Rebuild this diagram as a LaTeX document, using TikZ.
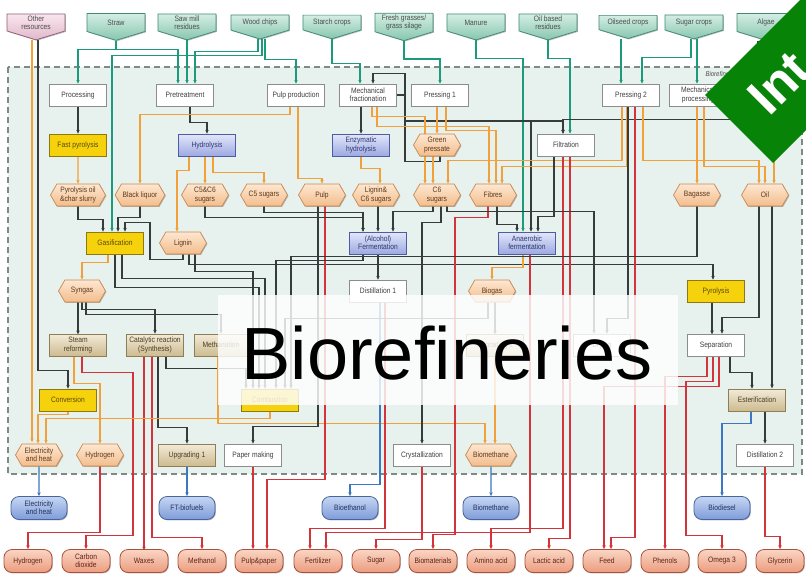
\documentclass[tikz,border=0pt]{standalone}
\usepackage{fontspec}
\setmainfont{Liberation Sans}
\newfontfamily\boxfont{Liberation Sans}[FakeStretch=0.86]
\usetikzlibrary{positioning,arrows.meta,shapes.symbols,shadows,backgrounds}
\definecolor{regfill}{HTML}{E7F2EF}
\definecolor{regline}{HTML}{7D8A88}
\definecolor{tealln}{HTML}{1B9A7C}
\definecolor{intop}{HTML}{D4EEE5}
\definecolor{inbot}{HTML}{86C6AE}
\definecolor{inbd}{HTML}{3F8A74}
\definecolor{pinktop}{HTML}{F9E6EE}
\definecolor{pinkbot}{HTML}{E2B8CA}
\definecolor{pinkbd}{HTML}{8E5E78}
\definecolor{darkln}{HTML}{363B3B}
\definecolor{orangeln}{HTML}{F2A03A}
\definecolor{redln}{HTML}{D3343C}
\definecolor{blueln}{HTML}{3A78C4}
\definecolor{yelfill}{HTML}{F6D20C}
\definecolor{yelbd}{HTML}{8C7A10}
\definecolor{yeltx}{HTML}{5A4A08}
\definecolor{bluetop}{HTML}{E3E7FA}
\definecolor{bluebot}{HTML}{9DA9E1}
\definecolor{bluebd}{HTML}{4E5CA6}
\definecolor{bluetx}{HTML}{2E3870}
\definecolor{tantop}{HTML}{F3EBD8}
\definecolor{tanbot}{HTML}{CDBB90}
\definecolor{tanbd}{HTML}{8D7D58}
\definecolor{tantx}{HTML}{4A3E25}
\definecolor{hextop}{HTML}{FDE7D1}
\definecolor{hexbot}{HTML}{F3BD8C}
\definecolor{hexbd}{HTML}{C98850}
\definecolor{hextx}{HTML}{5C3A1C}
\definecolor{prbtop}{HTML}{C6D6F3}
\definecolor{prbbot}{HTML}{7E9CD8}
\definecolor{prbbd}{HTML}{47649F}
\definecolor{prbtx}{HTML}{22325E}
\definecolor{prrtop}{HTML}{FAD5C4}
\definecolor{prrbot}{HTML}{EC9C7E}
\definecolor{prrbd}{HTML}{A9513C}
\definecolor{prrtx}{HTML}{5E2418}
\definecolor{ribbon}{HTML}{078307}
\begin{document}
\begin{tikzpicture}[x=1pt, y=-1pt,
    font=\boxfont\fontsize{7.8}{8.2}\selectfont,
    sh/.style      ={drop shadow={shadow xshift=0.9pt, shadow yshift=-0.9pt, fill=black!55, opacity=0.5}},
    inp/.style     ={shape=signal, signal to=south, signal pointer angle=146, minimum width=58, minimum height=21, inner sep=1.5pt, align=center, text=black!70, draw=inbd, line width=0.7, top color=intop, bottom color=inbot, sh},
    inpk/.style    ={inp, draw=pinkbd, top color=pinktop, bottom color=pinkbot},
    wbox/.style    ={rectangle, draw=black!45, line width=0.7, fill=white, minimum width=57, minimum height=22, inner sep=1.5pt, align=center, text=black!75, sh},
    ybox/.style    ={wbox, draw=yelbd, fill=yelfill, text=yeltx},
    bluebox/.style ={wbox, draw=bluebd, top color=bluetop, bottom color=bluebot, text=bluetx},
    tbox/.style    ={wbox, draw=tanbd, top color=tantop, bottom color=tanbot, text=tantx},
    hexn/.style    ={shape=signal, signal to=east and west, signal pointer angle=120, minimum width=47, minimum height=22, inner sep=1.2pt, align=center, draw=hexbd, line width=0.7, top color=hextop, bottom color=hexbot, text=hextx, sh},
    prodb/.style   ={rectangle, rounded corners=8pt, minimum width=56, minimum height=23, inner sep=1.5pt, align=center, draw=prbbd, line width=0.8, top color=prbtop, bottom color=prbbot, text=prbtx, sh},
    prodr/.style   ={prodb, minimum width=48, draw=prrbd, top color=prrtop, bottom color=prrbot, text=prrtx},
    flow/.style    ={line width=1.1pt, -{Stealth[length=3.8pt, width=3.4pt]}},
    flowt/.style   ={flow, draw=tealln},
    flowd/.style   ={flow, draw=darkln},
    flowo/.style   ={flow, draw=orangeln},
    flowr/.style   ={flow, draw=redln},
    flowb/.style   ={flow, draw=blueln},
  ]
  \useasboundingbox (0,0) rectangle (806,576);
  \clip (0,0) rectangle (806,576);
  \node[inpk] (othr)    at (36,22.5)  {Other\\resources};
  \node[inp]  (straw)   at (116,22.5) {Straw};
  \node[inp]  (saw)     at (187,22.5) {Saw mill\\residues};
  \node[inp]  (wood)    at (260,22.5) {Wood chips};
  \node[inp]  (starch)  at (332,22.5) {Starch crops};
  \node[inp]  (grass)   at (404,22.5) {Fresh grasses/\\grass silage};
  \node[inp]  (manure)  at (476,22.5) {Manure};
  \node[inp]  (oilres)  at (548,22.5) {Oil based\\residues};
  \node[inp]  (oilseed) at (628,22.5) {Oilseed crops};
  \node[inp]  (sugarc)  at (694,22.5) {Sugar crops};
  \node[inp]  (algae)   at (766,22.5) {Algae};
  \node[font=\boxfont\itshape\fontsize{7}{7}\selectfont, text=black!70, anchor=west] (brlabel) at (702,75) {Biorefinery};
  \node[wbox] (proc)   at (78,95)  {Processing};
  \node[wbox] (pretr)  at (185,95) {Pretreatment};
  \node[wbox] (pulpp)  at (296,95) {Pulp production};
  \node[wbox] (mfrac)  at (368,95) {Mechanical\\fractionation};
  \node[wbox] (press1) at (440,95) {Pressing 1};
  \node[wbox] (press2) at (631,95) {Pressing 2};
  \node[wbox] (mproc)  at (698,95) {Mechanical\\processing};
  \node[ybox]    (fpyr)   at (78,145)  {Fast pyrolysis};
  \node[bluebox] (hydro)  at (207,145) {Hydrolysis};
  \node[bluebox] (enz)    at (361,145) {Enzymatic\\hydrolysis};
  \node[hexn]    (gpress) at (437,145) {Green\\pressate};
  \node[wbox]    (filt)   at (566,145) {Filtration};
  \node[hexn, minimum width=55] (pyoil) at (78,195) {Pyrolysis oil\\\&char slurry};
  \node[hexn] (bliq)    at (140,195) {Black liquor};
  \node[hexn] (csix5)   at (205,195) {C5\&C6\\sugars};
  \node[hexn] (cfive)   at (264,195) {C5 sugars};
  \node[hexn] (pulp)    at (322,195) {Pulp};
  \node[hexn] (lignsix) at (376,195) {Lignin\&\\C6 sugars};
  \node[hexn] (csix)    at (437,195) {C6\\sugars};
  \node[hexn] (fibre)   at (493,195) {Fibres};
  \node[hexn] (bagas)   at (697,195) {Bagasse};
  \node[hexn] (oil)     at (765,195) {Oil};
  \node[ybox]    (gasif)  at (115,243) {Gasification};
  \node[hexn]    (lignin) at (183,243) {Lignin};
  \node[bluebox] (ferm)   at (378,243) {(Alcohol)\\Fermentation};
  \node[bluebox] (anaer)  at (527,243) {Anaerobic\\fermentation};
  \node[hexn] (syngas) at (82,291)  {Syngas};
  \node[wbox] (dist1)  at (378,291) {Distillation 1};
  \node[hexn] (biogas) at (492,291) {Biogas};
  \node[ybox] (pyro)   at (716,291) {Pyrolysis};
  \node[tbox] (steam)  at (78,345)  {Steam\\reforming};
  \node[tbox] (cat)    at (155,345) {Catalytic reaction\\(Synthesis)};
  \node[tbox, minimum width=54] (methn) at (221,345) {Methanation};
  \node[tbox] (upg2)   at (495,345) {Upgrading 2};
  \node[wbox] (dry)    at (602,345) {Drying};
  \node[wbox] (sep)    at (716,345) {Separation};
  \node[ybox] (conv)   at (68,400)  {Conversion};
  \node[ybox] (comb)   at (270,400) {Combustion};
  \node[tbox] (ester)  at (757,400) {Esterification};
  \node[hexn] (elec)   at (39,455)  {Electricity\\and heat};
  \node[hexn] (hyd)    at (100,455) {Hydrogen};
  \node[tbox] (upg1)   at (187,455) {Upgrading 1};
  \node[wbox] (paper)  at (253,455) {Paper making};
  \node[wbox] (cryst)  at (422,455) {Crystallization};
  \node[hexn] (bmeth)  at (491,455) {Biomethane};
  \node[wbox] (dist2)  at (765,455) {Distillation 2};
  \node[prodb] (pelec)    at (39,508)  {Electricity\\and heat};
  \node[prodb] (pft)      at (187,508) {FT-biofuels};
  \node[prodb] (pbeth)    at (350,508) {Bioethanol};
  \node[prodb] (pbmeth)   at (491,508) {Biomethane};
  \node[prodb] (pbdiesel) at (722,508) {Biodiesel};
  \node[prodr] (ph2)     at (28,561)  {Hydrogen};
  \node[prodr] (pco2)    at (86,561)  {Carbon\\dioxide};
  \node[prodr] (pwax)    at (144,561) {Waxes};
  \node[prodr] (pmeoh)   at (202,561) {Methanol};
  \node[prodr] (ppulp)   at (259,561) {Pulp\&paper};
  \node[prodr] (pfert)   at (318,561) {Fertilizer};
  \node[prodr] (psugar)  at (376,561) {Sugar};
  \node[prodr] (pbmat)   at (433,561) {Biomaterials};
  \node[prodr] (pamino)  at (491,561) {Amino acid};
  \node[prodr] (plactic) at (549,561) {Lactic acid};
  \node[prodr] (pfeed)   at (607,561) {Feed};
  \node[prodr] (pphen)   at (665,561) {Phenols};
  \node[prodr] (pomega)  at (722,561) {Omega 3};
  \node[prodr] (pglyc)   at (780,561) {Glycerin};
  \begin{scope}[on background layer]
  \fill[white] (0,0) rectangle (806,576);
  \draw[draw=regline, dash pattern=on 6pt off 4pt, line width=1.2pt, fill=regfill] (8,67) rectangle (802,474);
  \draw[flowt] (straw.south) -- ++(0,9) -| (proc.north);
  \draw[flowt] (straw.south) -- ++(0,9) -| ([xshift=-7]pretr.north);
  \draw[flowt] (saw.south) -- (saw.south |- pretr.north);
  \draw[flowt] ([xshift=-2]wood.south) -- ++(0,12) -| ([xshift=10]pretr.north);
  \draw[flowt] ([xshift=2]wood.south) -- ++(0,16) -| ([xshift=-3]gasif.north);
  \draw[flowt] ([xshift=5]wood.south) -- ++(0,20) -| (pulpp.north);
  \draw[flowt] (starch.south) -- ++(0,24) -| ([xshift=-8]mfrac.north);
  \draw[flowt] (grass.south) -- ++(0,18) -| (press1.north);
  \draw[flowt] (manure.south) -- ++(0,18) -| ([xshift=-4]anaer.north);
  \draw[flowt] (oilres.south) -- ++(0,18) -| ([xshift=4]filt.north);
  \draw[flowt] ([xshift=-7]oilseed.south) -- ([xshift=-10]press2.north);
  \draw[flowt] ([xshift=-3]sugarc.south) -- ++(0,18) -| ([xshift=11]press2.north);
  \draw[flowt] ([xshift=3]sugarc.south) -- ([xshift=-1]mproc.north);
  \draw[flowo] ([xshift=-4]othr.south) -- ++(0,402);
  \draw[flowd] ([xshift=2]othr.south) -- ++(0,330) -| (conv.north);
  \draw[flowd] (proc) -- (fpyr);
  \draw[flowd] ([xshift=5]pretr.south) -- ++(0,16) -| (hydro.north);
  \draw[flowd] (enz.north |- mfrac.south) -- (enz.north);
  \draw[flowd] (mfrac.east) -| ++(8.5,26) -| ([xshift=-3]filt.north);
  \draw[flowd] (mfrac.east) -| ++(8.5,26) -| ([xshift=4]anaer.north);
  \draw[flowd] ([xshift=-8]algae.south) -- ++(0,79) -| ([xshift=-3]filt.north);
  \draw[flowd] ([xshift=3]gpress.south) -- ++(0,5) -| ++(-35,-88) -| ([xshift=5]mfrac.north);
  \draw[flowo] (fpyr) -- (pyoil);
  \draw[flowd] (pyoil.south) -- ++(0,13) -| ([xshift=-12]gasif.north);
  \draw[flowd] (bliq.south) -- ++(0,11) -| ([xshift=3]gasif.north);
  \draw[flowd] (lignin.south) -- ++(0,5) -| ++(-33,-37) -| ([xshift=10]gasif.north);
  \draw[flowd] ([xshift=6]lignin.south) -- ++(0,10) -| ([xshift=-3]pyro.north);
  \draw[flowd] ([xshift=12]lignin.south) -- ++(0,17) -| ([xshift=-17]comb.north);
  \draw[flowo] ([xshift=-7]gasif.south) -- ++(0,8) -| (syngas.north);
  \draw[flowd] (gasif.south) -- ++(0,33) -| ([xshift=-11]comb.north);
  \draw[flowd] ([xshift=7]gasif.south) -- ++(0,24) -| ([xshift=-5]comb.north);
  \draw[flowd] ([xshift=-4]syngas.south) -- ++(0,32);
  \draw[flowd] (syngas.south) -- ++(0,7) -| (cat.north);
  \draw[flowd] ([xshift=4]syngas.south) -- ++(0,12) -| (methn.north);
  \draw[flowo] ([xshift=-4]steam.south) -- ++(0,27) -| (hyd.north);
  \draw[flowr] ([xshift=4]steam.south) -- ++(0,16) -| ++(51,163) -| (pco2.north);
  \draw[flowr] ([xshift=-11]cat.south) -- ++(0,194);
  \draw[flowr] ([xshift=-3]cat.south) -- ++(0,181) -| (pmeoh.north);
  \draw[flowd] ([xshift=3]cat.south) -- ++(0,71) -| (upg1.north);
  \draw[flowd] ([xshift=11]cat.south) -- ++(0,12) -| ([xshift=-24]comb.north);
  \draw[flowo] ([xshift=-3]methn.south) -- ++(0,67) -| ([xshift=-6]bmeth.north);
  \draw[flowo] (comb.south) -- ++(0,7) -| ([xshift=7]elec.north);
  \draw[flowo] (conv.south) -- ++(0,3) -| ([xshift=-1]elec.north);
  \draw[flowr] (hyd.south) -- ++(0,66) -| (ph2.north);
  \draw[flowb] (elec) -- (pelec);
  \draw[flowb] (upg1) -- (pft);
  \draw[flowb] (bmeth) -- (pbmeth);
  \draw[flowd] ([xshift=-4]pulp.south) -- ++(0,220) -| (paper.north);
  \draw[flowr] ([xshift=3]pulp.south) -- ++(0,273) -| ([xshift=8]ppulp.north);
  \draw[flowr] (paper.south) -- (paper.south |- ppulp.north);
  \draw[flowo] ([xshift=2]pulpp.south) -- ++(0,72) -| (pulp.north);
  \draw[flowo] ([xshift=-6]pulpp.south) -- ++(0,8) -| (bliq.north);
  \draw[flowo] (csix5.north |- hydro.south) -- (csix5.north);
  \draw[flowo] ([xshift=6]hydro.south) -- ++(0,16) -| (cfive.north);
  \draw[flowo] ([xshift=-18]hydro.south) -- ++(0,14) -| ([xshift=-6]lignin.north);
  \draw[flowo] (enz.south) -- ++(0,12) -| ([xshift=4]lignsix.north);
  \draw[flowo] ([xshift=4]mfrac.south) -- ++(0,10) -| ([xshift=-12]csix.north);
  \draw[flowo] ([xshift=9]mfrac.south) -- ++(0,20) -| ([xshift=-4]fibre.north);
  \draw[flowo] (gpress.north |- press1.south) -- (gpress.north);
  \draw[flowo] ([xshift=6]press1.south) -- ++(0,24) -| ([xshift=3]fibre.north);
  \draw[flowo] ([xshift=-4]gpress.south) -- ([xshift=-4]csix.north);
  \draw[flowo] ([xshift=-9]press2.south) -- ++(0,54) -| ([xshift=11]csix.north);
  \draw[flowo] ([xshift=-4]press2.south) -- ++(0,60) -| ([xshift=9]fibre.north);
  \draw[flowo] ([xshift=12]press2.south) -- ++(0,54) -| ([xshift=-6]oil.north);
  \draw[flowo] (bagas.north |- mproc.south) -- (bagas.north);
  \draw[flowo] ([xshift=6]mproc.south) -- ++(0,60) -| (oil.north);
  \draw[flowo] ([xshift=8]algae.south) -- ([xshift=9]oil.north);
  \draw[flowd] ([xshift=-3]press2.south) -- ++(0,212) -| ([xshift=5]dry.north);
  \draw[flowr] ([xshift=4]press2.south) -- ++(0,431) -| ([xshift=4]pfeed.north);
  \draw[flowr] ([xshift=-3]filt.south) -- ++(0,372) -| (pamino.north);
  \draw[flowr] ([xshift=4]filt.south) -- ++(0,382) -| (plactic.north);
  \draw[flowd] ([xshift=-12]filt.south) -- ++(0,60) -| ([xshift=11]anaer.north);
  \draw[flowo] ([xshift=-4]anaer.south) -- ++(0,13) -| (biogas.north);
  \draw[flowr] ([xshift=3]anaer.south) -- ++(0,278) -| ([xshift=8]pfert.north);
  \draw[flowd] ([xshift=4]fibre.south) -- ++(0,18) -| ([xshift=-10]anaer.north);
  \draw[flowr] ([xshift=-5]fibre.south) -- ++(0,11) -| ++(-33,317) -| (pbmat.north);
  \draw[flowd] ([xshift=-4]csix.south) -- ++(0,5) -| ([xshift=15]ferm.north);
  \draw[flowd] ([xshift=4]csix.south) -- ++(0,16) -| (cryst.north);
  \draw[flowd] ([xshift=10]csix.south) -- ++(0,5) -| ([xshift=-8]dry.north);
  \draw[flowd] (csix5.south) -- ++(0,11) -| ([xshift=-15]ferm.north);
  \draw[flowd] (cfive.south) -- ++(0,6) -| ([xshift=-15]ferm.north);
  \draw[flowd] (ferm.north |- lignsix.south) -- (ferm.north);
  \draw[flowd] (ferm) -- (dist1);
  \draw[flowd] ([xshift=-15]ferm.south) -- ++(0,6) -| ([xshift=6]comb.north);
  \draw[flowb] ([xshift=2]dist1.south) -- ++(0,182) -| (pbeth.north);
  \draw[flowr] ([xshift=7]dist1.south) -- ++(0,226) -| ([xshift=-8]pfert.north);
  \draw[flowd] ([xshift=3]biogas.south) -- ++(0,32);
  \draw[flowd] ([xshift=-4]biogas.south) -- ++(0,16) -| ([xshift=15]comb.north);
  \draw[flowo] (upg2.south) -- ([xshift=4]bmeth.north);
  \draw[flowd] (bagas.south) -- ++(0,50) -| ([xshift=21]comb.north);
  \draw[flowd] ([xshift=-4]pyro.south) -- ++(0,32);
  \draw[flowd] ([xshift=-6]oil.south) -- ++(0,111) -| ([xshift=6]sep.north);
  \draw[flowd] ([xshift=7]oil.south) -- ++(0,182);
  \draw[flowd] ([xshift=14]sep.south) -- ++(0,16) -| ([xshift=-5]ester.north);
  \draw[flowr] ([xshift=-9]sep.south) -- ++(0,20) -| (pphen.north);
  \draw[flowr] ([xshift=-3]sep.south) -- ++(0,25) -| ++(-27,154) -| (pomega.north);
  \draw[flowr] ([xshift=3]sep.south) -- ++(0,30) -| ([xshift=-3]pfeed.north);
  \draw[flowd] (dist2.north |- ester.south) -- (dist2.north);
  \draw[flowb] ([xshift=-6]ester.south) -- ++(0,12) -| (pbdiesel.north);
  \draw[flowr] (dist2.south) -- ++(0,70) -| (pglyc.north);
  \draw[flowr] (cryst.south) -- ++(0,73) -| (psugar.north);
  \end{scope}
  \fill[white, opacity=0.82] (218,295) rectangle (678,405);
  \node[anchor=base, inner sep=0pt, font=\normalfont\fontsize{74}{74}\selectfont, text=black] (bantxt) at (447,379) {Biorefineries};
  \fill[ribbon] (705,95) -- (773,163) -- (973,-37) -- (905,-105) -- cycle;
  \node[anchor=base west, rotate=45, inner sep=0pt, text=white, font=\normalfont\bfseries\fontsize{52}{52}\selectfont] (ribtxt) at (769,118) {Int};
\end{tikzpicture}
\end{document}
